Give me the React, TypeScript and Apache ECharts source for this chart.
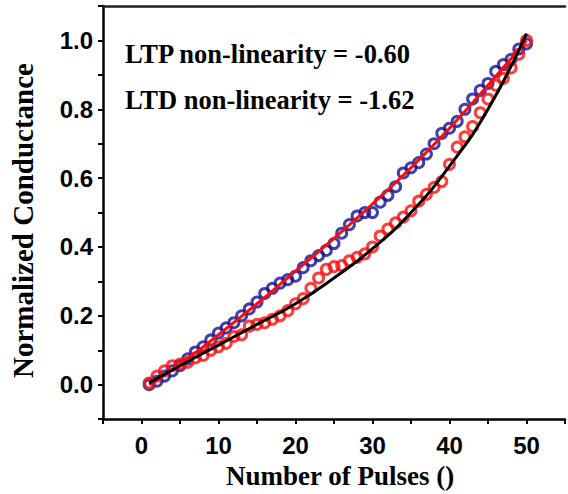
import React, { useEffect, useRef } from "react";
import * as echarts from "echarts";

const pulses: number[] = Array.from({ length: 50 }, (_, i) => i + 1);

const ltpValues: number[] = [
  0.0, 0.01, 0.025, 0.04, 0.055, 0.075, 0.095, 0.11, 0.13, 0.15,
  0.165, 0.18, 0.2, 0.22, 0.24, 0.265, 0.28, 0.295, 0.305, 0.315,
  0.34, 0.36, 0.375, 0.39, 0.41, 0.44, 0.465, 0.49, 0.5, 0.5,
  0.53, 0.55, 0.575, 0.615, 0.63, 0.645, 0.67, 0.7, 0.73, 0.745,
  0.765, 0.8, 0.83, 0.855, 0.875, 0.91, 0.93, 0.945, 0.975, 0.99,
];

const ltdValues: number[] = [
  0.005, 0.025, 0.04, 0.055, 0.06, 0.065, 0.078, 0.085, 0.1, 0.11,
  0.12, 0.14, 0.145, 0.17, 0.175, 0.18, 0.19, 0.2, 0.215, 0.235,
  0.25, 0.28, 0.31, 0.335, 0.343, 0.346, 0.36, 0.37, 0.38, 0.4,
  0.432, 0.452, 0.47, 0.487, 0.505, 0.533, 0.553, 0.573, 0.59, 0.64,
  0.69, 0.72, 0.75, 0.79, 0.83, 0.87, 0.89, 0.92, 0.96, 1.0,
];

const fitPulses: number[] = [1, 5, 10, 15, 20, 25, 30, 35, 40, 45, 50];
const ltpFit: number[] = [0.0, 0.06, 0.145, 0.235, 0.33, 0.425, 0.525, 0.63, 0.745, 0.87, 1.0];
const ltdFit: number[] = [0.005, 0.055, 0.115, 0.175, 0.235, 0.31, 0.395, 0.5, 0.635, 0.8, 1.02];

const annotations: string[] = ["LTP non-linearity = -0.60", "LTD non-linearity = -1.62"];

const xTitle = "Number of Pulses ()";
const yTitle = "Normalized Conductance";

export default function App() {
  const ref = useRef<HTMLDivElement>(null);
  useEffect(() => {
    if (!ref.current) return;
    const chart = echarts.init(ref.current, null, { renderer: "svg" });
    const serif = "'Liberation Serif', 'Times New Roman', serif";
    const sans = "'Liberation Sans', Arial, sans-serif";
    const circleStyle = (c: string) => ({
      color: "rgba(0,0,0,0)",
      borderColor: c,
      borderWidth: 3,
    });
    chart.setOption({
      animation: false,
      backgroundColor: "#ffffff",
      grid: { left: 103, top: 6, width: 472, height: 415, containLabel: false },
      xAxis: [
        {
          type: "value",
          min: -5,
          max: 55,
          interval: 5,
          position: "bottom",
          name: xTitle,
          nameLocation: "middle",
          nameGap: 31,
          nameTextStyle: {
            fontFamily: serif,
            fontWeight: "bold",
            fontSize: 27,
            color: "#000",
            padding: [0, 0, 0, 12],
          },
          axisLine: { onZero: false, lineStyle: { color: "#000", width: 2.5 } },
          axisTick: { inside: false, length: 5, lineStyle: { color: "#000", width: 2 } },
          axisLabel: {
            margin: 14,
            fontFamily: sans,
            fontWeight: "bold",
            fontSize: 24,
            color: "#000",
            formatter: (v: number) => (Math.round(v) % 10 === 0 ? String(Math.round(v)) : ""),
          },
          splitLine: { show: false },
        },
        {
          type: "value",
          min: -5,
          max: 55,
          position: "top",
          axisLine: { onZero: false, lineStyle: { color: "#222", width: 2.5 } },
          axisTick: { show: false },
          axisLabel: { show: false },
          splitLine: { show: false },
        },
      ],
      yAxis: {
        type: "value",
        min: -0.1,
        max: 1.1,
        interval: 0.1,
        name: yTitle,
        nameLocation: "middle",
        nameGap: 66,
        nameRotate: 90,
        nameTextStyle: {
          fontFamily: serif,
          fontWeight: "bold",
          fontSize: 29,
          color: "#000",
          padding: [0, 16, 0, 0],
        },
        axisLine: { onZero: false, lineStyle: { color: "#000", width: 2.5 } },
        axisTick: { inside: false, length: 5, lineStyle: { color: "#000", width: 2 } },
        axisLabel: {
          margin: 10,
          fontFamily: sans,
          fontWeight: "bold",
          fontSize: 24,
          color: "#000",
          formatter: (v: number) => {
            const k = Math.round(v * 10);
            return k >= 0 && k <= 10 && k % 2 === 0 ? (k / 10).toFixed(1) : "";
          },
        },
        splitLine: { show: false },
      },
      graphic: annotations.map((t, i) => ({
        type: "text",
        left: 125,
        top: 40 + i * 46,
        style: { text: t, font: `bold 26.5px ${serif}`, fill: "#000" },
      })),
      series: [
        {
          type: "scatter",
          name: "LTP",
          data: pulses.map((p, i) => [p, ltpValues[i]]),
          symbol: "circle",
          symbolSize: 10,
          itemStyle: circleStyle("#10109a"),
        },
        {
          type: "scatter",
          name: "LTD",
          data: pulses.map((p, i) => [p, ltdValues[i]]),
          symbol: "circle",
          symbolSize: 10,
          itemStyle: circleStyle("#ff0a0a"),
        },
        {
          type: "line",
          name: "LTP fit",
          data: fitPulses.map((p, i) => [p, ltpFit[i]]),
          smooth: true,
          showSymbol: false,
          lineStyle: { color: "#ff0a0a", width: 3 },
        },
        {
          type: "line",
          name: "LTD fit",
          data: fitPulses.map((p, i) => [p, ltdFit[i]]),
          smooth: true,
          showSymbol: false,
          lineStyle: { color: "#000", width: 3 },
        },
      ],
    });
    return () => chart.dispose();
  }, []);
  return (
    <div
      ref={ref}
      style={{ position: "fixed", left: 0, top: 0, width: 568, height: 494, background: "#fff" }}
    />
  );
}
